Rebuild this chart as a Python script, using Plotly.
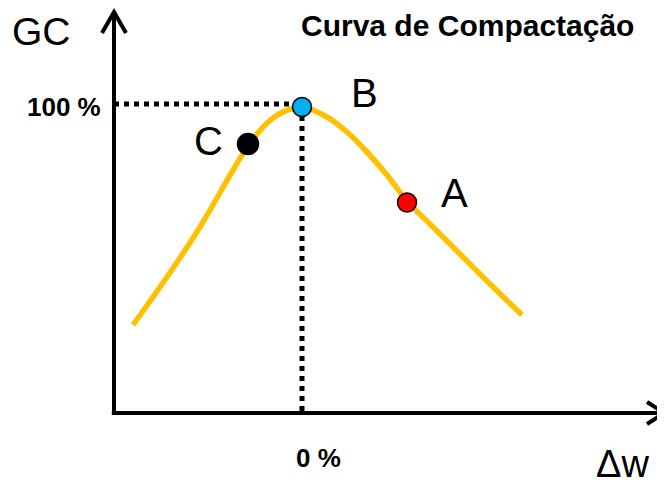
import plotly.graph_objects as go

# Compaction curve (Δw in arbitrary % units, GC in %)
curve_dw = [-4.225, -3.375, -2.55, -1.725, -1.35, -0.875, -0.475, 0.0, 0.625, 1.125, 1.625, 2.125, 2.625, 3.275, 3.95, 4.7, 5.5]
curve_gc = [56.4, 66.0, 76.0, 87.4, 92.2, 96.8, 99.0, 100.0, 98.0, 95.0, 91.0, 86.4, 81.2, 76.0, 70.6, 64.6, 58.4]

point_names = ["C", "B", "A"]
point_dw = [-1.35, 0.0, 2.625]
point_gc = [92.6, 100.0, 80.9]
point_colors = ["#000000", "#00B0F0", "#FF0000"]
point_sizes = [21, 19, 19]

opt_dw = 0.0
opt_gc = 100.0
y_tick_label = "100 %"
x_tick_label = "0 %"

X_RANGE = [-4.7, 9.05]
Y_RANGE = [38.8, 119.8]

FONT = "Liberation Sans, Arial, Helvetica, sans-serif"

fig = go.Figure()

# dotted guide lines to the optimum
fig.add_trace(go.Scatter(x=[X_RANGE[0], opt_dw, opt_dw], y=[opt_gc + 0.6, opt_gc + 0.6, Y_RANGE[0]],
                         mode="lines", line=dict(color="black", width=5, dash="5px,5px"),
                         hoverinfo="skip", showlegend=False))

fig.add_trace(go.Scatter(x=curve_dw, y=curve_gc, mode="lines",
                         line=dict(color="#FFC000", width=5.5, shape="spline", smoothing=0.8),
                         hoverinfo="skip", showlegend=False))

fig.add_trace(go.Scatter(x=point_dw, y=point_gc, mode="markers",
                         marker=dict(color=point_colors, size=point_sizes, opacity=1,
                                     line=dict(color="black", width=1.5)),
                         showlegend=False))

label_shift = {"C": (-40, 3), "B": (62, 14), "A": (47, 10)}
annotations = []
for n, x, y in zip(point_names, point_dw, point_gc):
    dx, dy = label_shift[n]
    annotations.append(dict(x=x, y=y, xref="x", yref="y", text=n, showarrow=False,
                            xshift=dx, yshift=dy, font=dict(family=FONT, size=40, color="black")))

annotations += [
    dict(x=-0.02, y=opt_gc, xref="paper", yref="y", text=y_tick_label, showarrow=False,
         xanchor="right", yanchor="middle", font=dict(family=FONT, size=26, color="black", weight="bold")),
    dict(x=opt_dw, y=-0.111, xref="x", yref="paper", text=x_tick_label, showarrow=False,
         xanchor="left", xshift=-8, yanchor="middle", font=dict(family=FONT, size=26, color="black", weight="bold")),
    dict(x=-0.1327, y=0.941, xref="paper", yref="paper", text="GC", showarrow=False,
         xanchor="center", yanchor="middle", font=dict(family=FONT, size=39, color="black")),
    dict(x=0.925, y=-0.127, xref="paper", yref="paper", text="Δw", showarrow=False,
         xanchor="center", yanchor="middle", font=dict(family=FONT, size=38, color="black")),
    dict(x=0.642, y=0.956, xref="paper", yref="paper", text="Curva de Compactação", showarrow=False,
         xanchor="center", yanchor="middle", font=dict(family=FONT, size=30, color="black", weight="bold")),
]

shapes = [
    dict(type="line", xref="paper", yref="paper", x0=0, y0=0, x1=0, y1=0.99,
         line=dict(color="black", width=4)),
    dict(type="line", xref="paper", yref="paper", x0=-0.004, y0=0, x1=1, y1=0,
         line=dict(color="black", width=4)),
    dict(type="path", xref="paper", yref="paper", xsizemode="pixel", ysizemode="pixel",
         xanchor=0, yanchor=0.99, path="M -12,-21 L 0,0 L 12,-21",
         line=dict(color="black", width=4)),
    dict(type="path", xref="paper", yref="paper", xsizemode="pixel", ysizemode="pixel",
         xanchor=1, yanchor=0, path="M -17,11 L 0,0 L -17,-11",
         line=dict(color="black", width=4)),
]

# the page body keeps its default 8px margin, so the figure is 8px smaller
fig.update_layout(
    width=657, height=479,
    margin=dict(l=106, r=1, t=0, b=74),
    paper_bgcolor="white", plot_bgcolor="white",
    xaxis=dict(range=X_RANGE, visible=False, fixedrange=True),
    yaxis=dict(range=Y_RANGE, visible=False, fixedrange=True),
    annotations=annotations, shapes=shapes, showlegend=False,
)

fig.write_html("out.html")
